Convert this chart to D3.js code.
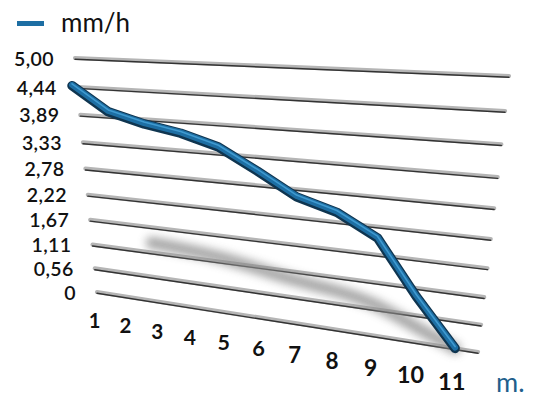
<!DOCTYPE html>
<html>
<head>
<meta charset="utf-8">
<script src="https://cdn.jsdelivr.net/npm/d3@7"></script>
<style>
  html, body { margin: 0; padding: 0; background: #ffffff; }
  svg { display: block; }
  text { font-family: Lato, "Open Sans", sans-serif; }
</style>
</head>
<body>
<svg id="chart" width="533" height="399"></svg>
<script>
// ---------------- data ----------------
const months = ["1", "2", "3", "4", "5", "6", "7", "8", "9", "10", "11"];
const rainfall = [4.46, 3.99, 3.80, 3.67, 3.46, 3.06, 2.63, 2.41, 2.00, 0.94, 0.0];
const yTicks = [0, 0.56, 1.11, 1.67, 2.22, 2.78, 3.33, 3.89, 4.44, 5.00];
const yTickLabels = ["0", "0,56", "1,11", "1,67", "2,22", "2,78", "3,33", "3,89", "4,44", "5,00"];
const seriesName = "mm/h";
const xUnit = "m.";

// ---------------- layout (perspective plane) ----------------
// corners of the tilted grid plane: (u,v) = (0,0) (1,0) (1,1) (0,1)
const P0 = [97, 292], P1 = [478, 352], P2 = [509, 76], P3 = [75, 58];
function makeHomography(p0, p1, p2, p3) {
  const dx1 = p1[0] - p2[0], dx2 = p3[0] - p2[0], dx3 = p0[0] - p1[0] + p2[0] - p3[0];
  const dy1 = p1[1] - p2[1], dy2 = p3[1] - p2[1], dy3 = p0[1] - p1[1] + p2[1] - p3[1];
  const den = dx1 * dy2 - dy1 * dx2;
  const g = (dx3 * dy2 - dy3 * dx2) / den;
  const h = (dx1 * dy3 - dy1 * dx3) / den;
  const a = p1[0] - p0[0] + g * p1[0], b = p3[0] - p0[0] + h * p3[0], c = p0[0];
  const d = p1[1] - p0[1] + g * p1[1], e = p3[1] - p0[1] + h * p3[1], f = p0[1];
  const fn = (u, v) => {
    const w = g * u + h * v + 1;
    return [(a * u + b * v + c) / w, (d * u + e * v + f) / w];
  };
  fn.w = (u, v) => g * u + h * v + 1;
  return fn;
}
const proj = makeHomography(P0, P1, P2, P3);

const uScale = d3.scaleLinear().domain([1, 11]).range([-0.016, 0.949]);
const vScale = d3.scaleLinear().domain([0, 5]).range([0, 1]);

const svg = d3.select("#chart");
const defs = svg.append("defs");
defs.append("filter").attr("id", "blur").attr("x", "-20%").attr("y", "-50%")
  .attr("width", "140%").attr("height", "200%")
  .append("feGaussianBlur").attr("stdDeviation", 4.5);

// ---------------- gridlines ----------------
const grid = svg.append("g");
yTicks.forEach(t => {
  const a = proj(0, vScale(t)), b = proj(1, vScale(t));
  grid.append("line").attr("x1", a[0]).attr("y1", a[1]).attr("x2", b[0]).attr("y2", b[1])
    .attr("stroke", "#b5b5b5").attr("stroke-width", 4.2).attr("stroke-linecap", "round");
  grid.append("line").attr("x1", a[0]).attr("y1", a[1] + 1.3).attr("x2", b[0]).attr("y2", b[1] + 1.3)
    .attr("stroke", "#333").attr("stroke-width", 1.4).attr("stroke-linecap", "round");
});

// ---------------- y tick labels ----------------
svg.append("g").selectAll("text").data(yTicks).join("text")
  .attr("x", t => proj(0, vScale(t))[0] - 21)
  .attr("y", t => proj(0, vScale(t))[1])
  .attr("text-anchor", "end")
  .attr("dominant-baseline", "central")
  .attr("font-size", 19.5).attr("font-weight", 600).attr("fill", "#111")
  .attr("letter-spacing", 0.4)
  .text((t, i) => yTickLabels[i]);

// ---------------- shadow ----------------
const shadowFactor = 0.35;
const shadowIdx = d3.range(2, 11);
const shadowLine = d3.line()
  .x(i => proj(uScale(i + 1), vScale(rainfall[i] * shadowFactor))[0])
  .y(i => proj(uScale(i + 1), vScale(rainfall[i] * shadowFactor))[1])
  .curve(d3.curveBasis);
svg.append("path").attr("d", shadowLine(shadowIdx))
  .attr("fill", "none").attr("stroke", "#8a8a8a").attr("stroke-width", 12)
  .attr("stroke-linecap", "round").attr("opacity", 0.75).attr("filter", "url(#blur)");

// ---------------- series line ----------------
const line = d3.line()
  .x((d, i) => proj(uScale(i + 1), vScale(d))[0])
  .y((d, i) => proj(uScale(i + 1), vScale(d))[1]);
const pathD = line(rainfall);
const series = svg.append("g");
series.append("path").attr("d", pathD).attr("fill", "none")
  .attr("stroke", "#0f3550").attr("stroke-width", 9.5)
  .attr("stroke-linejoin", "round").attr("stroke-linecap", "round");
series.append("path").attr("d", pathD).attr("fill", "none").attr("transform", "translate(0,-0.8)")
  .attr("stroke", "#1d6ea3").attr("stroke-width", 6)
  .attr("stroke-linejoin", "round").attr("stroke-linecap", "round");
series.append("path").attr("d", pathD).attr("fill", "none").attr("transform", "translate(0,-1.8)")
  .attr("stroke", "#3f9ad0").attr("stroke-width", 1.6)
  .attr("stroke-linejoin", "round").attr("stroke-linecap", "round");

// ---------------- x labels ----------------
svg.append("g").selectAll("text").data(months).join("text")
  .attr("x", (m, i) => proj(uScale(i + 1), -0.14)[0])
  .attr("y", (m, i) => proj(uScale(i + 1), -0.14)[1])
  .attr("text-anchor", "middle")
  .attr("dominant-baseline", "central")
  .attr("font-size", (m, i) => 20.5 / proj.w(uScale(i + 1), -0.14))
  .attr("font-weight", 700).attr("fill", "#111")
  .text(m => m);

// x unit
svg.append("text").attr("x", 496).attr("y", 392)
  .attr("font-size", 27).attr("fill", "#1f5f8c").text(xUnit);

// ---------------- legend ----------------
svg.append("rect").attr("x", 17).attr("y", 21).attr("width", 27).attr("height", 5)
  .attr("fill", "#1d6ea3");
svg.append("text").attr("x", 61).attr("y", 32)
  .attr("font-size", 26).attr("fill", "#111").text(seriesName);
</script>
</body>
</html>
